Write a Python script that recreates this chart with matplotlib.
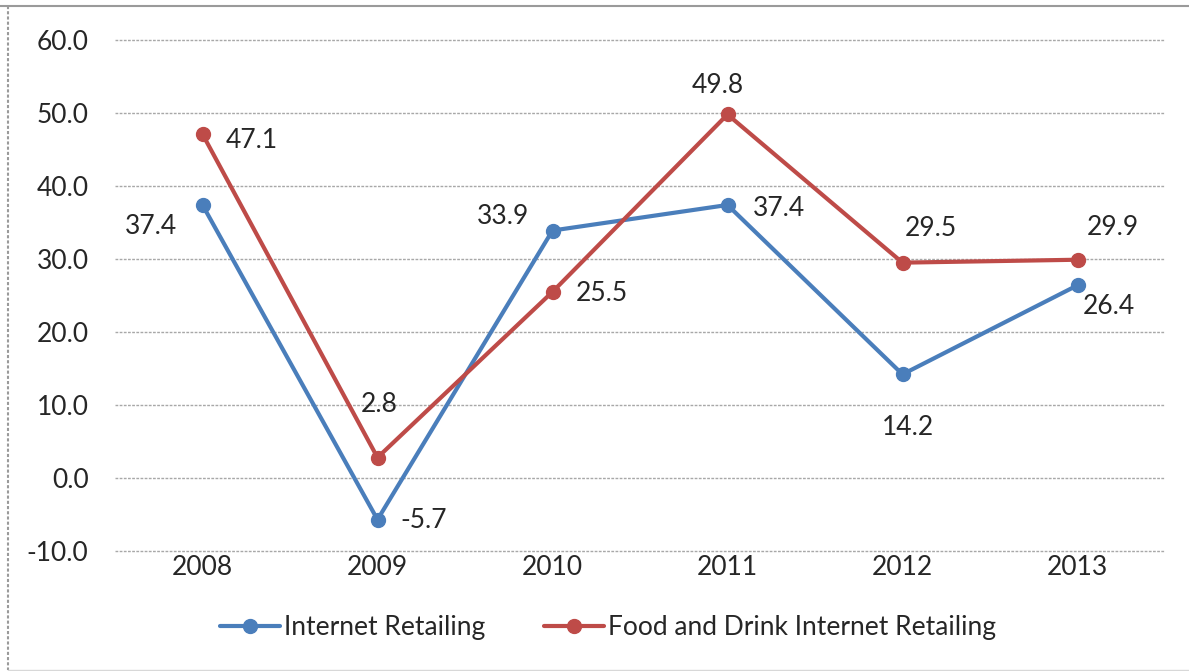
import matplotlib
matplotlib.use("Agg")
import matplotlib.pyplot as plt
from matplotlib.lines import Line2D

years = ["2008", "2009", "2010", "2011", "2012", "2013"]
internet_retailing = [37.4, -5.7, 33.9, 37.4, 14.2, 26.4]
food_drink_retailing = [47.1, 2.8, 25.5, 49.8, 29.5, 29.9]
y_ticks = [-10, 0, 10, 20, 30, 40, 50, 60]

# label offsets in pixels (dx, dy) for each point
blue_offsets = [(-52, -22), (46, -1), (-50, 14), (51, -4), (6, -53), (31, -21)]
red_offsets = [(49, -6), (2, 53), (49, -2), (-10, 29), (28, 34), (35, 32)]

BLUE = "#4A7EBB"
RED = "#BE4B48"
TEXT = "#262626"
FS = 19

plt.rcParams["font.family"] = ["Lato", "DejaVu Sans"]

W, H = 1189, 671
fig = plt.figure(figsize=(W / 100, H / 100), dpi=100)
fig.patch.set_facecolor("white")

left, right = 115 / W, 1165 / W
bottom, top = 1 - 551 / H, 1 - 40 / H
ax = fig.add_axes([left, bottom, right - left, top - bottom])

x = list(range(len(years)))
ax.set_xlim(-0.5, len(years) - 0.5)
ax.set_ylim(-10, 60)

for v in y_ticks:
    ax.axhline(v, color="#a8a8a8", lw=1.0, linestyle=(0, (2, 1)), zorder=1,
               clip_on=False)

ax.plot(x, internet_retailing, color=BLUE, lw=3.0, marker="o", markersize=10,
        markerfacecolor=BLUE, markeredgecolor=BLUE, label="Internet Retailing",
        zorder=3, solid_capstyle="round")
ax.plot(x, food_drink_retailing, color=RED, lw=3.0, marker="o", markersize=10,
        markerfacecolor=RED, markeredgecolor=RED,
        label="Food and Drink Internet Retailing", zorder=4,
        solid_capstyle="round")

for xi, v, off in zip(x, internet_retailing, blue_offsets):
    ax.annotate(f"{v:.1f}", (xi, v), xytext=off, textcoords="offset pixels",
                ha="center", va="center", fontsize=FS, color=TEXT, zorder=5)
for xi, v, off in zip(x, food_drink_retailing, red_offsets):
    ax.annotate(f"{v:.1f}", (xi, v), xytext=off, textcoords="offset pixels",
                ha="center", va="center", fontsize=FS, color=TEXT, zorder=5)

ax.set_xticks(x)
ax.set_xticklabels(years)
ax.set_yticks(y_ticks)
ax.set_yticklabels([f"{v:.1f}" for v in y_ticks])
ax.tick_params(axis="both", length=0, labelsize=FS, labelcolor=TEXT)
ax.tick_params(axis="y", pad=19)
ax.tick_params(axis="x", pad=3)
for s in ax.spines.values():
    s.set_visible(False)

leg = fig.legend(loc="center", bbox_to_anchor=(608 / W, 1 - 628 / H), ncol=2,
                 frameon=False, fontsize=FS, handlelength=2.3,
                 handletextpad=0.15, columnspacing=2.2, borderpad=0)
for t in leg.get_texts():
    t.set_color(TEXT)

# outer frame lines
fig.add_artist(Line2D([0, 1], [1 - 6 / H, 1 - 6 / H], transform=fig.transFigure,
                      color="#9a9a9a", lw=1.5))
fig.add_artist(Line2D([8 / W, 8 / W], [1 - 6 / H, 1 - 670 / H],
                      transform=fig.transFigure, color="#9a9a9a", lw=1.5,
                      linestyle=(0, (1.5, 1))))
fig.add_artist(Line2D([8 / W, 1], [1 - 670 / H, 1 - 670 / H],
                      transform=fig.transFigure, color="#d8d8d8", lw=1.0))

fig.savefig("out.png", dpi=100)
